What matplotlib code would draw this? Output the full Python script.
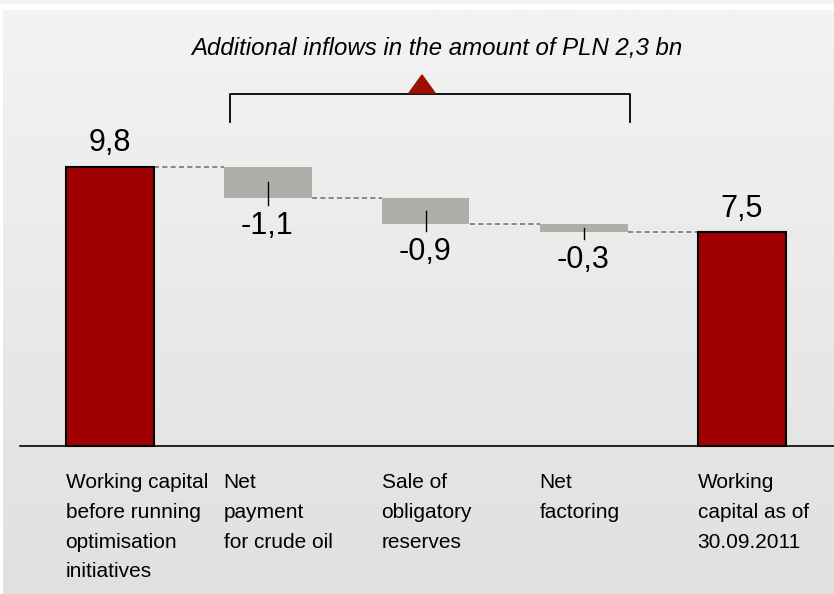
import numpy as np
import matplotlib.pyplot as plt
from matplotlib import font_manager

categories = ["Working capital\nbefore running\noptimisation\ninitiatives",
              "Net\npayment\nfor crude oil",
              "Sale of\nobligatory\nreserves",
              "Net\nfactoring",
              "Working\ncapital as of\n30.09.2011"]
start_value = 9.8
changes = [-1.1, -0.9, -0.3]
end_value = 7.5
value_labels = ["9,8", "-1,1", "-0,9", "-0,3", "7,5"]
title = "Additional inflows in the amount of PLN 2,3 bn"

names = {f.name for f in font_manager.fontManager.ttflist}
narrow = "Liberation Sans Narrow" if "Liberation Sans Narrow" in names else "Liberation Sans"
plt.rcParams['font.family'] = [narrow, 'DejaVu Sans']

W, H = 834, 594
fig = plt.figure(figsize=(W / 100, H / 100), dpi=100)
fig.patch.set_facecolor("#f2f2f2")

# background panel with vertical gradient
bg = fig.add_axes([0, 0, 1, 1])
bg.set_xlim(0, W)
bg.set_ylim(H, 0)
bg.axis("off")
bg.axhspan(4, 10, color="white", lw=0)
bg.axvspan(0, 3, ymin=0, ymax=1 - 10 / H, color="white", lw=0)
grad = np.linspace(0, 1, 256).reshape(-1, 1)
cmap = plt.matplotlib.colors.LinearSegmentedColormap.from_list("g", ["#f3f3f3", "#e0e0e0"])
bg.imshow(grad, extent=(3, W, H, 10), aspect="auto", cmap=cmap, zorder=0)

ax = fig.add_axes([0, 0, 1, 1])
ax.patch.set_alpha(0)
px_x = 158.0
px_y = 28.5
x0 = 109.5
base_px = H - 446
ax.set_xlim(-x0 / px_x, (W - x0) / px_x)
ax.set_ylim(-base_px / px_y, (H - base_px) / px_y)
ax.axis("off")

width = 88 / px_x
red = "#a00000"
gray = "#afafaa"

x = np.arange(len(categories))
levels = [start_value]
for c in changes:
    levels.append(levels[-1] + c)

# totals
ax.bar([x[0], x[-1]], [start_value, end_value], width=width, color=red,
       edgecolor="black", linewidth=1.5, zorder=3)
# changes
for i, c in enumerate(changes):
    top = levels[i]
    bottom = levels[i + 1]
    ax.bar(x[i + 1], top - bottom, bottom=bottom, width=width, color=gray, zorder=3)
    ax.plot([x[i + 1], x[i + 1]], [top - (top - bottom) * 0.5, bottom - 0.25],
            color="black", lw=1, zorder=4)
    ax.text(x[i + 1], bottom - 0.45, value_labels[i + 1], ha="center", va="top",
            fontsize=22, zorder=5)

ax.text(x[0], start_value + 0.3, value_labels[0], ha="center", va="bottom", fontsize=22)
ax.text(x[-1], end_value + 0.3, value_labels[-1], ha="center", va="bottom", fontsize=22)

# dashed connectors
for i in range(len(categories) - 1):
    lvl = levels[min(i, len(levels) - 1)]
    ax.plot([x[i] + width / 2, x[i + 1] - width / 2], [lvl, lvl],
            color="#777777", lw=1.2, ls=(0, (3, 2)), zorder=2)

# baseline
ax.plot([(20 - x0) / px_x, ax.get_xlim()[1]], [0, 0], color="black", lw=1.2, zorder=4)

# category labels
for i, lab in enumerate(categories):
    ax.text(x[i] - width / 2, -0.95, lab, ha="left", va="top", fontsize=15,
            linespacing=1.72)

# bracket, triangle and title (in pixel coordinates)
bg.plot([230, 230, 630, 630], [122, 94, 94, 122], color="black", lw=1.3, zorder=5)
bg.fill([409, 422, 435], [93, 75, 93], color="#9c1100", zorder=6)
bg.text(437, 48, title, ha="center", va="center", fontsize=17.3, style="italic", zorder=6)

fig.savefig("out.png", dpi=100, facecolor=fig.get_facecolor())
